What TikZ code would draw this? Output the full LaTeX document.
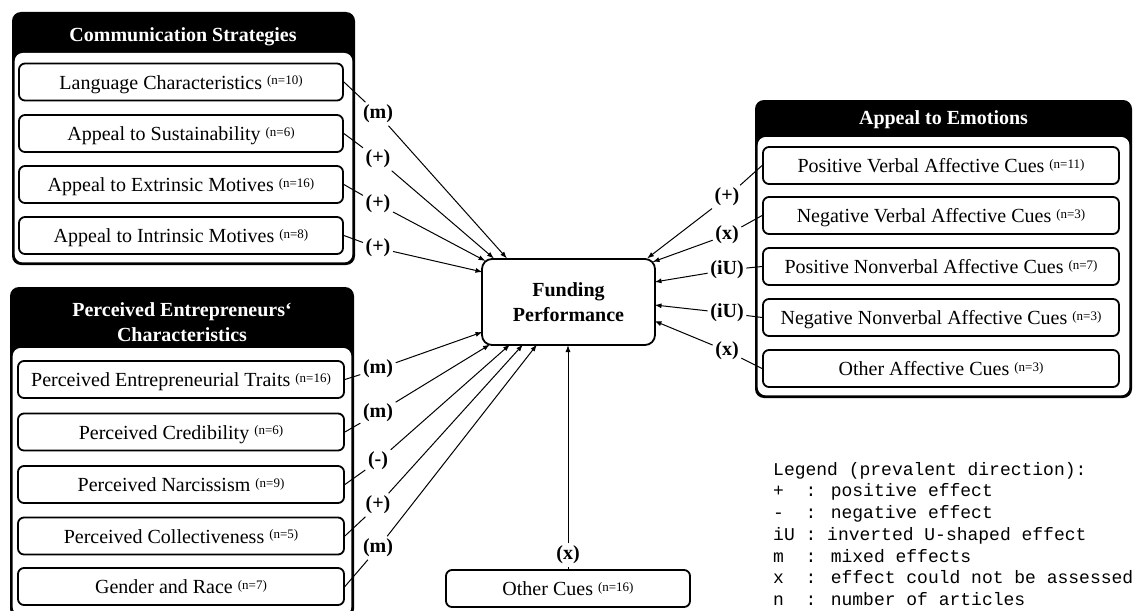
\documentclass[tikz,border=0pt]{standalone}
\usepackage{fontspec}
\setmainfont{Liberation Serif}
\newfontfamily\legendfont{Liberation Mono}
\usetikzlibrary{arrows.meta,calc}
% article count, set as a small raised note after each factor
\newcommand{\artn}[1]{\raisebox{4.5pt}{\fontsize{13}{13}\selectfont(n=#1)}}

\begin{document}
\begin{tikzpicture}[x=1pt,y=-1pt,
  txt/.style={font=\fontsize{20}{22}\selectfont},
  item/.style={txt, draw, line width=1.8pt, rounded corners=6pt, fill=white,
               minimum height=37pt, inner sep=0pt, text height=18pt, text depth=4pt},
  csitem/.style={item, minimum width=324pt},
  peitem/.style={item, minimum width=326pt},
  aeitem/.style={item, minimum width=356pt},
  head/.style={font=\fontsize{20}{25}\selectfont\bfseries, text=white, align=center},
  panelout/.style={fill=black, rounded corners=9pt},
  panelin/.style={fill=white, rounded corners=8pt},
  eff/.style={font=\fontsize{20}{22}\selectfont\bfseries, inner sep=2.5pt},
  link/.style={line width=1pt},
  arr/.style={line width=1pt, -{Latex[length=7pt,width=5pt]}},
  leg/.style={anchor=base west, inner sep=0pt, font=\legendfont\fontsize{18}{22}\selectfont}
]
\useasboundingbox (0,0) rectangle (1137,610);
\clip (0,0) rectangle (1137,610);

% ---- group frames ----
\path[panelout] (12,12) rectangle (355,265);
\path[panelin]  (14.7,53) rectangle (352.3,262.4);
\path[panelout] (10,287) rectangle (354,618);
\path[panelin]  (12.7,348) rectangle (351.3,615);
\path[panelout] (755,100) rectangle (1132,398);
\path[panelin]  (757.7,137) rectangle (1129.3,395.3);

\node[head] (hcs) at (183,37) {Communication Strategies};
\node[head] (hpe) at (182,322.5) {Perceived Entrepreneurs‘\\Characteristics};
\node[head] (hae) at (943.5,120) {Appeal to Emotions};

% ---- communication strategies ----
\node[csitem] (lang) at (181,82)    {Language Characteristics \artn{10}};
\node[csitem] (sust) at (181,133.5) {Appeal to Sustainability \artn{6}};
\node[csitem] (extr) at (181,184.5) {Appeal to Extrinsic Motives \artn{16}};
\node[csitem] (intr) at (181,235.5) {Appeal to Intrinsic Motives \artn{8}};

% ---- perceived entrepreneurs' characteristics ----
\node[peitem] (trait) at (181,379.5) {Perceived Entrepreneurial Traits \artn{16}};
\node[peitem] (cred)  at (181,432)   {Perceived Credibility \artn{6}};
\node[peitem] (narc)  at (181,484.5) {Perceived Narcissism \artn{9}};
\node[peitem] (coll)  at (181,536)   {Perceived Collectiveness \artn{5}};
\node[peitem] (gend)  at (181,586.5) {Gender and Race \artn{7}};

% ---- appeal to emotions ----
\node[aeitem] (pv) at (941,165.5) {Positive Verbal Affective Cues \artn{11}};
\node[aeitem] (nv) at (941,215.5) {Negative Verbal Affective Cues \artn{3}};
\node[aeitem] (pn) at (941,266.5) {Positive Nonverbal Affective Cues \artn{7}};
\node[aeitem] (nn) at (941,317.5) {Negative Nonverbal Affective Cues \artn{3}};
\node[aeitem] (oa) at (941,368.5) {Other Affective Cues \artn{3}};

% ---- outcome and other cues ----
\node[txt, draw, line width=1.8pt, rounded corners=10pt, minimum width=173pt,
      minimum height=86pt, align=center, font=\fontsize{20}{25}\selectfont\bfseries]
      (fund) at (568.5,302) {Funding\\Performance};
\node[item, minimum width=244pt] (other) at (568,588.5) {Other Cues \artn{16}};

% ---- effect labels ----
\node[eff] (e1) at (378,114) {(m)};
\node[eff] (e2) at (378,159) {(+)};
\node[eff] (e3) at (378,204) {(+)};
\node[eff] (e4) at (378,248) {(+)};
\node[eff] (e5) at (378,369) {(m)};
\node[eff] (e6) at (378,413) {(m)};
\node[eff] (e7) at (378,461) {(-)};
\node[eff] (e8) at (378,505) {(+)};
\node[eff] (e9) at (378,548) {(m)};
\node[eff] (r1) at (727,197) {(+)};
\node[eff] (r2) at (727,235) {(x)};
\node[eff] (r3) at (727,270) {(iU)};
\node[eff] (r4) at (727,313) {(iU)};
\node[eff] (r5) at (727,351) {(x)};
\node[eff] (b1) at (568,555) {(x)};

% ---- arrow targets on the outcome box ----
\coordinate (t1) at (507,258.5);
\coordinate (t2) at (494,258.5);
\coordinate (t3) at (485.5,261);
\coordinate (t4) at (482.5,272);
\coordinate (t5) at (482.5,332);
\coordinate (t6) at (490,344.5);
\coordinate (t7) at (510,344.5);
\coordinate (t8) at (523,344.5);
\coordinate (t9) at (537,344.5);
\coordinate (u1) at (647,258.5);
\coordinate (u2) at (652.5,262);
\coordinate (u3) at (654.5,282);
\coordinate (u4) at (654.5,305);
\coordinate (u5) at (654.5,321);
\coordinate (v1) at (568,345);

% ---- connectors ----
\foreach \s/\e/\t in {lang/e1/t1, sust/e2/t2, extr/e3/t3, intr/e4/t4,
                      trait/e5/t5, cred/e6/t6, narc/e7/t7, coll/e8/t8, gend/e9/t9}{
  \draw[link] (\s.east) -- (\e);
  \draw[arr] (\e) -- (\t);
}
\foreach \s/\e/\t in {pv/r1/u1, nv/r2/u2, pn/r3/u3, nn/r4/u4, oa/r5/u5}{
  \draw[link] (\s.west) -- (\e);
  \draw[arr] (\e) -- (\t);
}
\draw[link] (other.north) -- (b1);
\draw[arr] (b1) -- (v1);

% ---- legend ----
\node[leg] (l0) at (773,475)    {Legend (prevalent direction):};
\node[leg] (l1) at (773,496.75) {+~~: positive effect};
\node[leg] (l2) at (773,518.5)  {-~~: negative effect};
\node[leg] (l3) at (773,540.25) {iU : inverted U-shaped effect};
\node[leg] (l4) at (773,562)    {m~~: mixed effects};
\node[leg] (l5) at (773,583.75) {x~~: effect could not be assessed};
\node[leg] (l6) at (773,605.5)  {n~~: number of articles};
\end{tikzpicture}
\end{document}
